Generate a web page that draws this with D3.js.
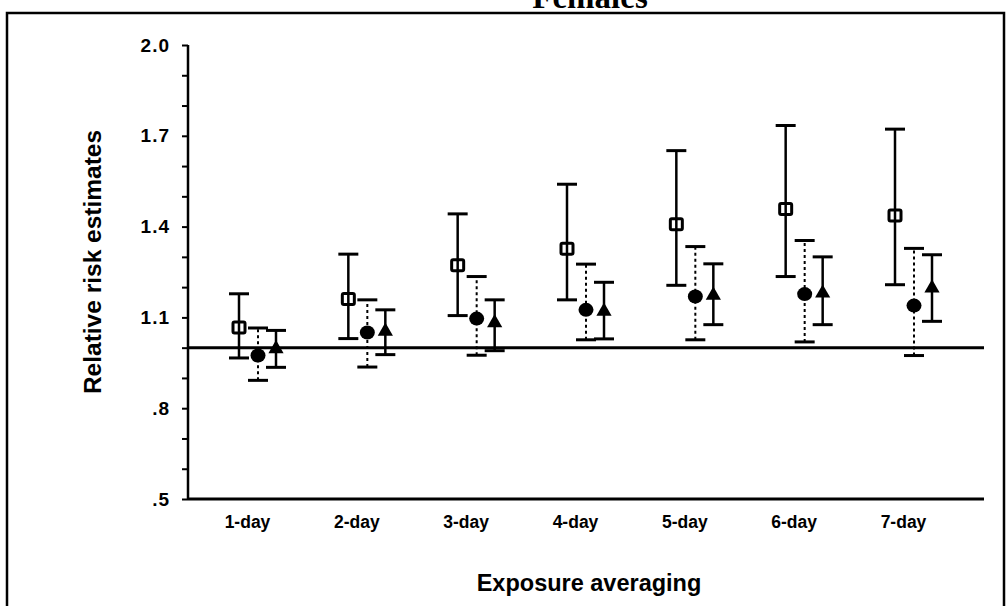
<!DOCTYPE html>
<html><head><meta charset="utf-8">
<script src="https://cdn.jsdelivr.net/npm/d3@7"></script>
<style>html,body{margin:0;padding:0;background:#fff;}svg{display:block;}</style>
</head><body>
<svg id="c" width="1008" height="606"></svg>
<script>
const categories = ['1-day','2-day','3-day','4-day','5-day','6-day','7-day'];
// open squares (solid bars)
const sqEst = [1.067, 1.161, 1.272, 1.327, 1.408, 1.458, 1.437];
const sqLo  = [0.966, 1.030, 1.106, 1.158, 1.206, 1.235, 1.208];
const sqHi  = [1.178, 1.309, 1.442, 1.540, 1.651, 1.734, 1.722];
// filled circles (dotted bars)
const ciEst = [0.974, 1.050, 1.096, 1.125, 1.169, 1.177, 1.139];
const ciLo  = [0.892, 0.936, 0.975, 1.026, 1.026, 1.019, 0.974];
const ciHi  = [1.065, 1.158, 1.235, 1.276, 1.334, 1.354, 1.328];
// filled triangles (solid bars)
const trEst = [0.996, 1.054, 1.082, 1.120, 1.173, 1.180, 1.197];
const trLo  = [0.935, 0.977, 0.990, 1.029, 1.076, 1.076, 1.087];
const trHi  = [1.057, 1.125, 1.158, 1.216, 1.277, 1.300, 1.307];
const yTicks = [0.5,0.6,0.7,0.8,0.9,1.0,1.1,1.2,1.3,1.4,1.5,1.6,1.7,1.8,1.9,2.0];
const yLabels = [0.5,0.8,1.1,1.4,1.7,2.0];
const refValue = 1.0;

const svg = d3.select('#c');
const axL = 188, axR = 984, axT = 45, axB = 499;
const y = d3.scaleLinear().domain([0.5, 2.0]).range([axB, axT]);
const x = d3.scalePoint().domain(categories).range([247, 903]);

// frame
svg.append('path').attr('d', `M7,606 L7,13 L1004,13 L1004,606`).attr('fill','none').attr('stroke','#000').attr('stroke-width',2.5);

// title (cut off at top, as in the reference)
svg.append('text').attr('x', 590).attr('y', 8).attr('text-anchor','middle')
  .attr('font-family','Liberation Serif, serif').attr('font-weight','bold').attr('font-size',33).text('Females');

// y axis
const yAxis = d3.axisLeft(y).tickValues(yTicks).tickSize(6)
  .tickFormat(d => yLabels.some(v => Math.abs(v-d)<1e-9) ? d3.format('.1f')(d).replace(/^0/,'') : '');
const gy = svg.append('g').attr('transform',`translate(${axL},0)`).call(yAxis);
gy.select('.domain').attr('stroke-width',2.5).attr('d',`M-0,${axT}H0V${axB}`);
gy.selectAll('.tick line').attr('stroke-width',2);
gy.selectAll('.tick text').attr('x',-18).attr('font-family','Liberation Sans, Arial, sans-serif')
  .attr('font-weight','bold').attr('font-size',19).attr('letter-spacing',1).attr('fill','#000');

// x axis
const gx = svg.append('g').attr('transform',`translate(0,${axB})`)
  .call(d3.axisBottom(x).tickSize(0).tickPadding(17));
gx.select('.domain').attr('stroke-width',3).attr('d',`M${axL},0H${axR}`);
gx.selectAll('.tick text').attr('font-family','Liberation Sans, Arial, sans-serif')
  .attr('font-weight','bold').attr('font-size',17.5).attr('fill','#000');

// reference line
svg.append('line').attr('x1',axL).attr('x2',axR).attr('y1',y(refValue)).attr('y2',y(refValue))
  .attr('stroke','#000').attr('stroke-width',3);

// axis titles
svg.append('text').attr('transform',`translate(101,262) rotate(-90)`).attr('text-anchor','middle')
  .attr('font-family','Liberation Sans, Arial, sans-serif').attr('font-size',24.5).attr('font-weight','bold').text('Relative risk estimates');
svg.append('text').attr('x',589).attr('y',591).attr('text-anchor','middle')
  .attr('font-family','Liberation Sans, Arial, sans-serif').attr('font-size',23.5).attr('font-weight','bold').text('Exposure averaging');

const series = [
  {est: sqEst, lo: sqLo, hi: sqHi, off: -8, dash: null, w: 2.5, cap: 10, mark: 'square'},
  {est: ciEst, lo: ciLo, hi: ciHi, off: 11, dash: '3,3', w: 2, cap: 10, mark: 'circle'},
  {est: trEst, lo: trLo, hi: trHi, off: 29, dash: null, w: 2.5, cap: 10, mark: 'triangle'}
];

series.forEach(s => {
  const g = svg.append('g');
  categories.forEach((c, i) => {
    const cx = x(c) + s.off;
    g.append('line').attr('x1',cx).attr('x2',cx).attr('y1',y(s.lo[i])).attr('y2',y(s.hi[i]))
      .attr('stroke','#000').attr('stroke-width',s.w).attr('stroke-dasharray',s.dash);
    [s.lo[i], s.hi[i]].forEach(v => {
      g.append('line').attr('x1',cx-s.cap).attr('x2',cx+s.cap).attr('y1',y(v)).attr('y2',y(v))
        .attr('stroke','#000').attr('stroke-width',3);
    });
    const cy = y(s.est[i]);
    if (s.mark === 'square') {
      g.append('rect').attr('x',cx-6).attr('y',cy-5.5).attr('width',12).attr('height',11).attr('rx',1.5)
        .attr('fill','none').attr('stroke','#000').attr('stroke-width',3);
    } else if (s.mark === 'circle') {
      g.append('ellipse').attr('cx',cx).attr('cy',cy).attr('rx',7.5).attr('ry',7).attr('fill','#000');
    } else {
      g.append('path').attr('transform',`translate(${cx},${cy})`)
        .attr('d', d3.symbol().type(d3.symbolTriangle).size(100)()).attr('fill','#000');
    }
  });
});
</script>
</body></html>
